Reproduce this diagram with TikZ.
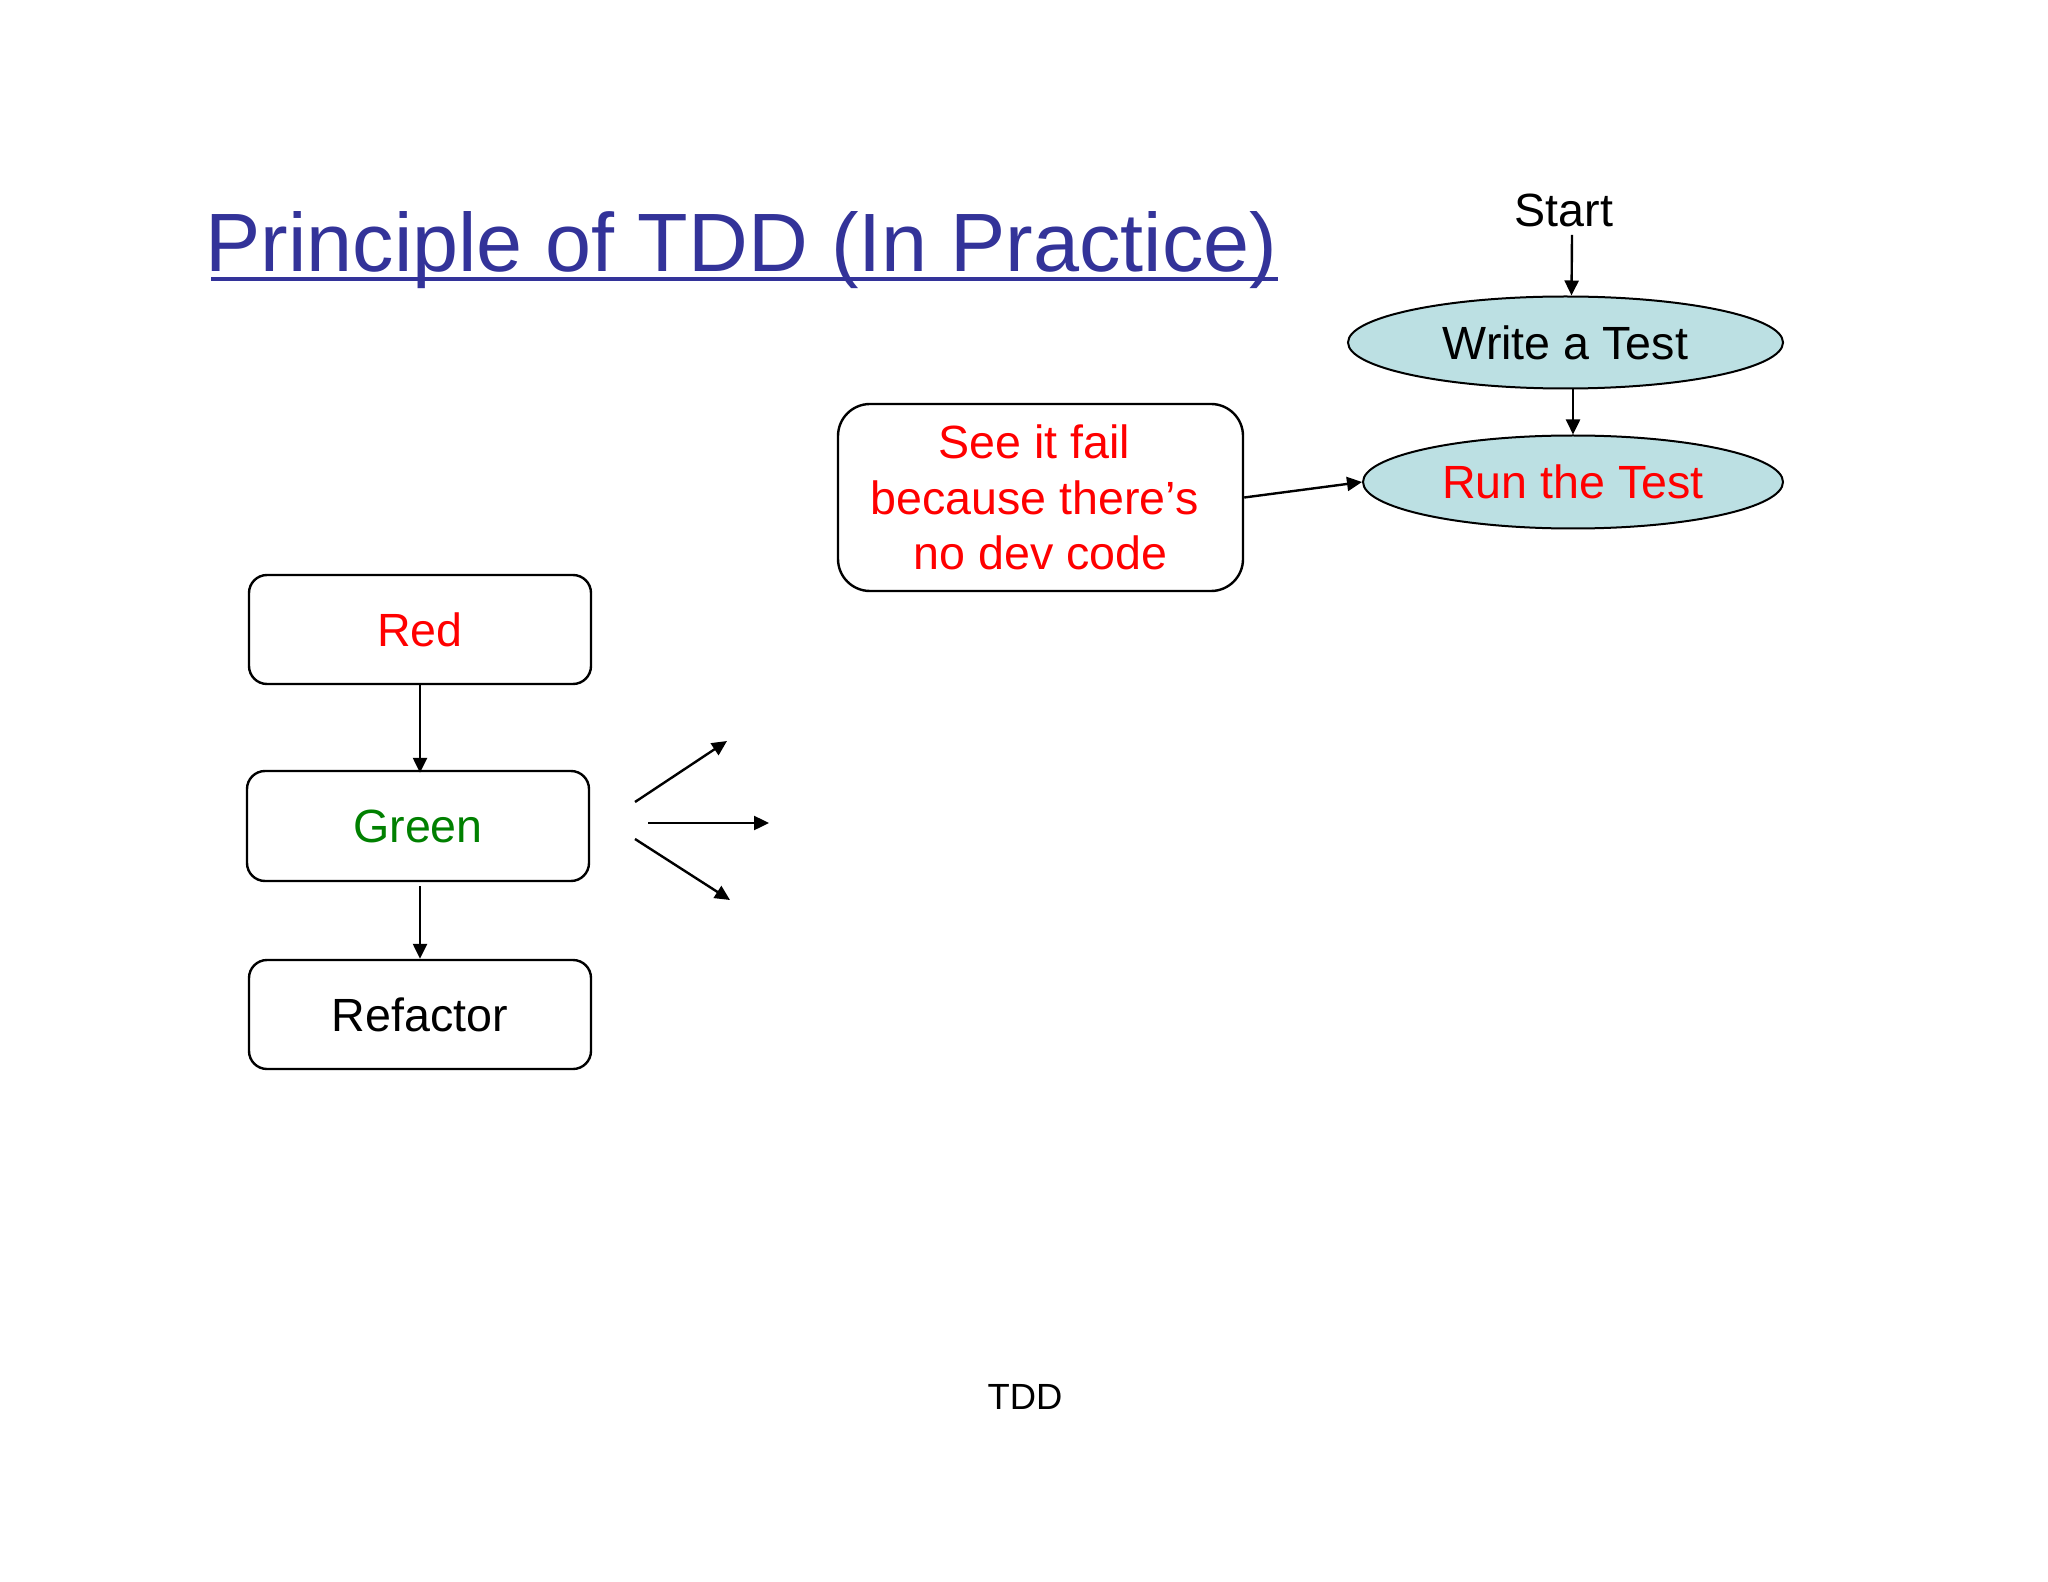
\documentclass[tikz,border=0pt]{standalone}
\usepackage{fontspec}
\setmainfont{Liberation Sans}
\usetikzlibrary{arrows.meta,shapes.geometric,calc}
\definecolor{titleblue}{RGB}{51,51,153}
\definecolor{ellfill}{RGB}{188,224,227}
\definecolor{tred}{RGB}{255,0,0}
\definecolor{tgreen}{RGB}{0,128,0}
\begin{document}
\begin{tikzpicture}[x=0.5pt,y=-0.5pt,
  rbox/.style={draw=black,line width=1.2pt,rounded corners=9pt,fill=white,
    minimum width=171pt,minimum height=54.5pt,inner sep=0pt,
    font=\fontsize{23.3pt}{28pt}\selectfont},
  sbox/.style={draw=black,line width=1.2pt,rounded corners=16pt,fill=white,
    minimum width=202.5pt,minimum height=93.5pt,inner sep=0pt,align=center,
    text=tred,font=\fontsize{23.3pt}{27.75pt}\selectfont},
  ell/.style={ellipse,draw=black,line width=1pt,fill=ellfill,inner sep=0pt,
    font=\fontsize{23.3pt}{28pt}\selectfont},
  arr/.style={line width=1.2pt,-{Triangle[length=7.5pt,width=7pt]}}]
\useasboundingbox (0,0) rectangle (2048,1582);
\fill[white] (0,0) rectangle (2048,1582);
% title
\node[anchor=base west,inner sep=0pt,text=titleblue,font=\fontsize{41.4pt}{48pt}\selectfont] (title) at (205,272) {Principle of TDD (In Practice)};
\draw[titleblue,line width=2pt] ([xshift=3pt,yshift=-3.5pt]title.base west) -- ([yshift=-3.5pt]title.base east);
% right flow
\node[inner sep=4pt,font=\fontsize{23.3pt}{28pt}\selectfont] (start) at (1564,210) {Start};
\node[ell,minimum width=217.5pt,minimum height=46pt] (write) at (1565.5,342.5) {Write a Test};
\node[ell,minimum width=210pt,minimum height=46.5pt,text=tred] (run) at (1573,482) {Run the Test};
\node[sbox] (see) at (1040.5,497.5) {See it fail\hspace*{6pt}\\\hbox{because there’s\kern6pt}\\no dev code};
\draw[arr] ([xshift=4pt]start.south) -- ([xshift=3pt]write.north);
\draw[arr] (write.south -| run.north) -- (run.north);
\draw[arr] (see.east) -- (run.west);
% left flow
\node[rbox,text=tred] (red) at (420,629.5) {Red};
\node[rbox,text=tgreen,minimum height=55pt] (green) at (418,826) {Green};
\node[rbox] (refactor) at (420,1014.5) {Refactor};
\draw[arr] (red.south) -- ($(red.south |- green.north)+(0,3)$);
\draw[arr] ($(green.south)+(2,4)$) -- (refactor.north);
% outgoing arrows
\coordinate (u1) at (635,802);
\coordinate (u2) at (727,741);
\coordinate (m1) at (648,823);
\coordinate (m2) at (769,823);
\coordinate (l1) at (635,839);
\coordinate (l2) at (730,900);
\draw[arr] (u1) -- (u2);
\draw[arr] (m1) -- (m2);
\draw[arr] (l1) -- (l2);
% footer
\node[inner sep=0pt,font=\fontsize{18.2pt}{22pt}\selectfont] (foot) at (1025,1397) {TDD};
\end{tikzpicture}
\end{document}
